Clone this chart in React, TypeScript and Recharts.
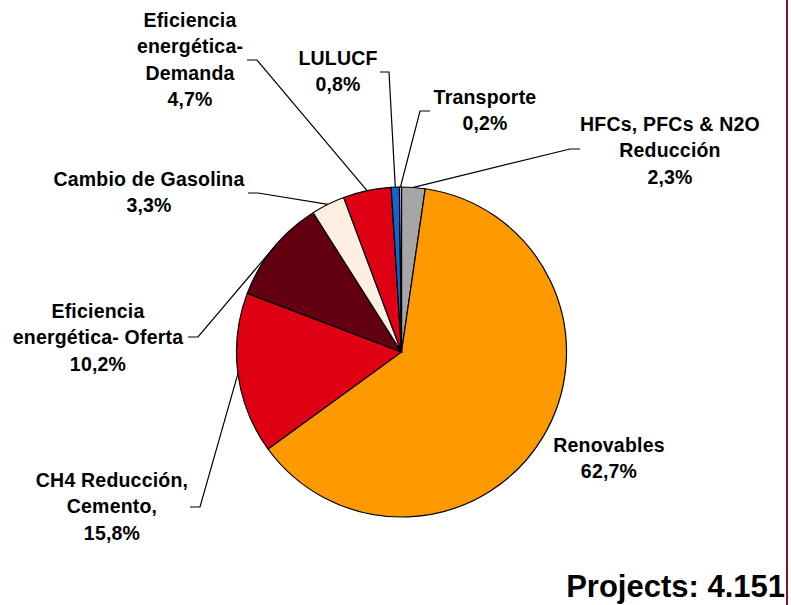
import React from "react";
import { PieChart, Pie, Cell } from "recharts";

// ---- data ----
const categories = [
  "HFCs, PFCs & N2O Reducción",
  "Renovables",
  "CH4 Reducción, Cemento,",
  "Eficiencia energética- Oferta",
  "Cambio de Gasolina",
  "Eficiencia energética- Demanda",
  "LULUCF",
  "Transporte",
];
const shares = [2.3, 62.7, 15.8, 10.2, 3.3, 4.7, 0.8, 0.2];
const colors = ["#A6A6A6", "#FF9900", "#E00014", "#620011", "#FDEEE2", "#E00014", "#1464CF", "#D6D6F2"];
const labelLines = [
  ["HFCs, PFCs & N2O", "Reducción"],
  ["Renovables"],
  ["CH4 Reducción,", "Cemento,"],
  ["Eficiencia", "energética- Oferta"],
  ["Cambio de Gasolina"],
  ["Eficiencia", "energética-", "Demanda"],
  ["LULUCF"],
  ["Transporte"],
];
const projectsLabel = "Projects: 4.151";

// ---- layout (label placement) ----
type LabelPos = { x: number; y: number; stub: [number, number, number] | null };
const labelPos: LabelPos[] = [
  { x: 670, y: 124, stub: [580, 570, 149] },
  { x: 609, y: 445, stub: null },
  { x: 112, y: 480, stub: [190, 200, 507] },
  { x: 98, y: 311, stub: [188, 198, 337] },
  { x: 149, y: 179, stub: [248, 258, 193] },
  { x: 190, y: 20, stub: [247, 257, 60] },
  { x: 338, y: 58, stub: [380, 389, 72] },
  { x: 485, y: 97, stub: [430, 420, 111] },
];
const LINE_H = 26.3;
const FONT = "'Liberation Sans', Arial, sans-serif";

const tableData = categories.map((name, i) => ({ name, value: shares[i] }));

const RAD = Math.PI / 180;

const renderLabel = (props: any) => {
  const { cx, cy, midAngle, outerRadius, index } = props;
  const pos = labelPos[index];
  const lines = [...labelLines[index], shares[index].toFixed(1).replace(".", ",") + "%"];
  const ex = cx + outerRadius * Math.cos(-midAngle * RAD);
  const ey = cy + outerRadius * Math.sin(-midAngle * RAD);
  return (
    <g key={"lbl" + index}>
      {pos.stub && (
        <polyline
          points={`${pos.stub[0]},${pos.stub[2]} ${pos.stub[1]},${pos.stub[2]} ${ex},${ey}`}
          fill="none"
          stroke="#000"
          strokeWidth={1.2}
        />
      )}
      {lines.map((t, k) => (
        <text
          key={k}
          x={pos.x}
          y={pos.y + k * LINE_H}
          textAnchor="middle"
          dominantBaseline="central"
          fontFamily={FONT}
          fontWeight="bold"
          fontSize={19.5}
          letterSpacing={0.2}
          fill="#000"
        >
          {t}
        </text>
      ))}
    </g>
  );
};

export default function App() {
  return (
    <div style={{ position: "absolute", left: 0, top: 0, width: 791, height: 605, background: "#fff" }}>
      <PieChart width={791} height={605} margin={{ top: 0, right: 0, bottom: 0, left: 0 }}>
        <Pie
          data={tableData}
          dataKey="value"
          nameKey="name"
          cx={401.5}
          cy={352}
          outerRadius={165}
          startAngle={90}
          endAngle={-270}
          stroke="#000"
          strokeWidth={1.2}
          label={renderLabel}
          labelLine={false}
          isAnimationActive={false}
        >
          {tableData.map((d, i) => (
            <Cell key={d.name} fill={colors[i]} />
          ))}
        </Pie>
      </PieChart>
      <svg width={791} height={605} style={{ position: "absolute", left: 0, top: 0, pointerEvents: "none" }}>
        <line x1={787} y1={0} x2={787} y2={605} stroke="#7A1626" strokeWidth={2} />
        <text x={785} y={597} textAnchor="end" fontFamily={FONT} fontWeight="bold" fontSize={31} fill="#000">
          {projectsLabel}
        </text>
      </svg>
    </div>
  );
}
